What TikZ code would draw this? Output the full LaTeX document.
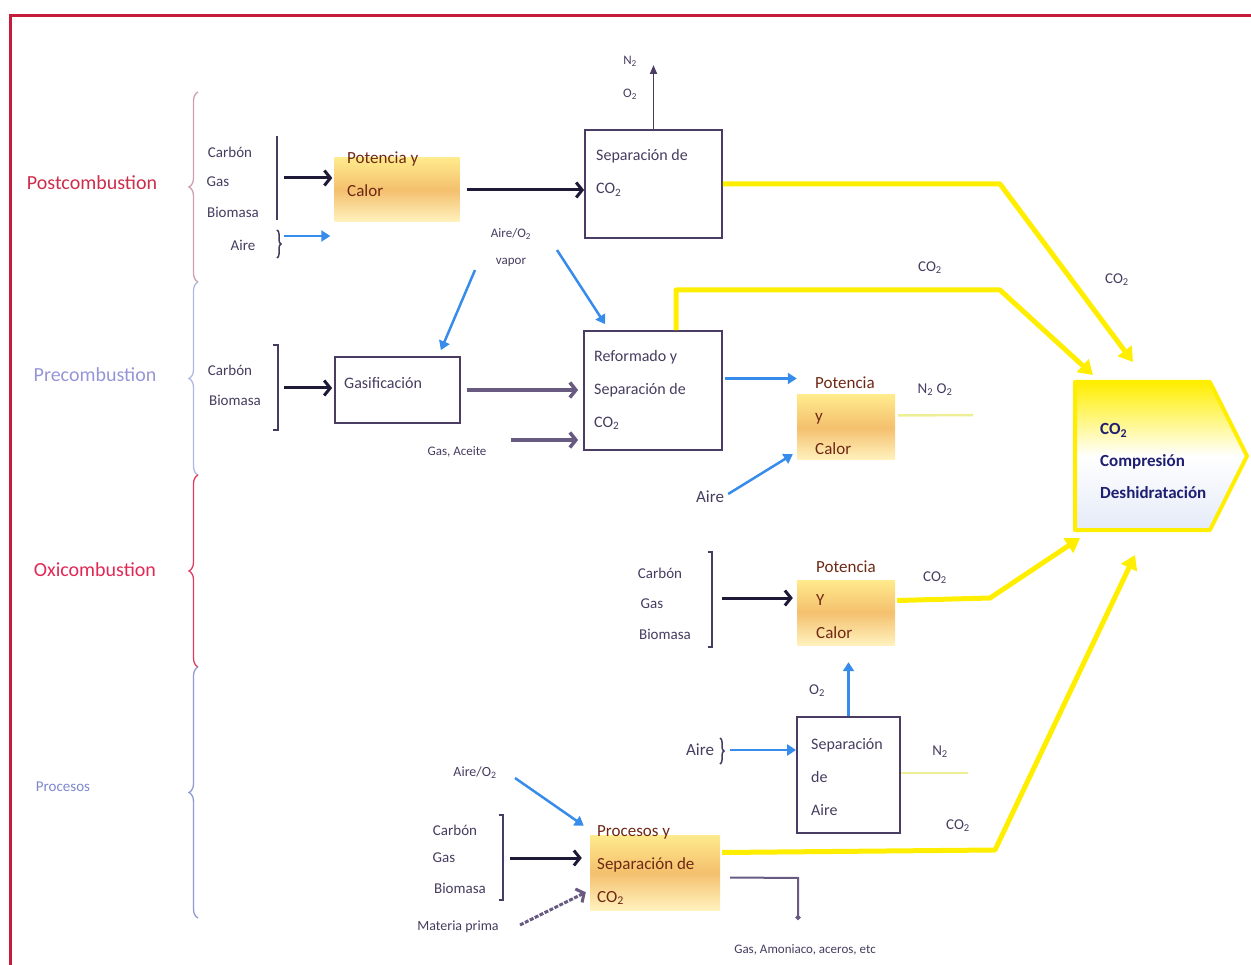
\documentclass[tikz,border=0pt]{standalone}
\usepackage{fontspec}
\setmainfont{Carlito}
\usetikzlibrary{positioning, calc, arrows.meta, decorations.pathreplacing}

\definecolor{marcoRojo}{RGB}{196,28,58}
\definecolor{postRojo}{RGB}{205,45,75}
\definecolor{preLila}{RGB}{150,150,215}
\definecolor{oxiRojo}{RGB}{225,40,85}
\definecolor{procAzul}{RGB}{125,135,205}
\definecolor{llavePost}{RGB}{205,160,175}
\definecolor{llavePre}{RGB}{175,185,225}
\definecolor{llaveOxi}{RGB}{225,60,95}
\definecolor{llaveProc}{RGB}{145,155,210}
\definecolor{txtGris}{RGB}{70,60,95}
\definecolor{bordeCaja}{RGB}{75,60,100}
\definecolor{flechaNegra}{RGB}{30,25,55}
\definecolor{flechaGris}{RGB}{105,90,130}
\definecolor{flechaAzul}{RGB}{55,140,235}
\definecolor{amarilloCO}{RGB}{255,238,0}
\definecolor{amarilloPalido}{RGB}{238,238,150}
\definecolor{azulPalido}{RGB}{228,234,248}
\definecolor{hotTop}{RGB}{255,234,140}
\definecolor{hotMid}{RGB}{244,192,110}
\definecolor{hotBot}{RGB}{255,242,190}
\definecolor{txtMarron}{RGB}{110,40,20}
\definecolor{txtAzul}{RGB}{30,30,115}

\newcommand{\coDos}{CO\textsubscript{2}}

\begin{document}
\begin{tikzpicture}[
    x=1pt, y=-1pt,
    cat_lbl/.style={font=\fontsize{20}{24}\selectfont, inner sep=0pt},
    in_lbl/.style={text=txtGris, font=\fontsize{15}{18}\selectfont, inner sep=1pt},
    gas_lbl/.style={text=txtGris, font=\fontsize{13}{16}\selectfont, inner sep=1pt},
    proc_box/.style={draw=bordeCaja, line width=1.8pt, inner sep=0pt},
    hot_box/.style={inner sep=0pt, top color=hotTop, bottom color=hotBot, middle color=hotMid},
    box_txt/.style={anchor=west, align=left, text=txtGris, font=\fontsize{16}{33}\selectfont, inner sep=0pt},
    hot_txt/.style={anchor=west, align=left, text=txtMarron, font=\fontsize{17}{33}\selectfont, inner sep=0pt},
    llave/.style={decorate, decoration={brace, amplitude=9pt}, line width=1.3pt},
    barra/.style={line width=1.5pt, draw=txtGris},
    negra/.style={-{Straight Barb[length=6pt, width=15pt]}, line width=3pt, flechaNegra},
    gris/.style={-{Straight Barb[length=6pt, width=15pt]}, line width=3.5pt, flechaGris},
    azul/.style={-{Triangle[length=9pt, width=11pt]}, line width=2.5pt, flechaAzul},
    co2_line/.style={-{Triangle[length=14pt, width=17pt]}, line width=5pt, amarilloCO, line join=round},
    salida/.style={line width=2.5pt, amarilloPalido}
]
    \useasboundingbox (0,0) rectangle (1251,965);

    % ======================================================================
    % MARCO Y CATEGORIAS
    % ======================================================================
    \draw[marcoRojo, line width=3pt] (10,970) -- (10,16) -- (1256,16);

    \node[cat_lbl, text=postRojo] (post) at (92,183) {Postcombustion};
    \node[cat_lbl, text=preLila] (pre) at (95,375) {Precombustion};
    \node[cat_lbl, text=oxiRojo] (oxi) at (95,570) {Oxicombustion};
    \node[cat_lbl, text=procAzul, font=\fontsize{15}{18}\selectfont] (proc) at (63,787) {Procesos};

    % Llaves
    \draw[llave, llavePost] (198,282) -- (198,92);
    \draw[llave, llavePre] (198,475) -- (198,282);
    \draw[llave, llaveOxi] (198,667) -- (198,475);
    \draw[llave, llaveProc] (198,918) -- (198,667);

    % ======================================================================
    % POSTCOMBUSTION
    % ======================================================================
    \node[in_lbl] (p_carbon) at (230,152) {Carbón};
    \node[in_lbl] (p_gas) at (218,182) {Gas};
    \node[in_lbl] (p_bio) at (233,212) {Biomasa};
    \node[in_lbl] (p_aire) at (243,245) {Aire};
    \draw[barra] (277,136) -- (277,220);
    \draw[barra, decorate, decoration={brace, amplitude=4pt}] (277,230) -- (277,258);

    \node[hot_box, minimum width=125, minimum height=64] (pot1) at (397,190) {};
    \node[hot_txt] (pot1_txt) at (347,174) {Potencia y\\Calor};

    \node[proc_box, minimum width=137, minimum height=108] (sep1) at (653.5,184) {};
    \node[box_txt] (sep1_txt) at (596,173) {Separación de\\\coDos};

    \coordinate (p_in) at (284,178);
    \coordinate (p_aire_in) at (284,236);
    \coordinate (n_out) at (653.5,65);
    \draw[negra] (p_in) -- ([xshift=-2pt]p_in -| pot1.west);
    \draw[azul] (p_aire_in) -- ([xshift=-4pt]p_aire_in -| pot1.west);
    \draw[negra] ([xshift=7pt]pot1.east) -- (pot1.east -| sep1.west);
    \draw[-{Triangle[length=9pt, width=7pt]}, line width=1.8pt, bordeCaja] (sep1.north) -- (n_out);
    \node[gas_lbl, align=center, font=\fontsize{13}{33}\selectfont] (n_lbl) at (630,78) {N\textsubscript{2}\\O\textsubscript{2}};

    % ======================================================================
    % PRECOMBUSTION
    % ======================================================================
    \node[in_lbl] (r_carbon) at (230,370) {Carbón};
    \node[in_lbl] (r_bio) at (235,400) {Biomasa};
    \draw[barra] (273,345) -- (278,345) -- (278,430) -- (273,430);

    \node[proc_box, minimum width=125, minimum height=66] (gas) at (397.5,390) {};
    \node[box_txt] (gas_txt) at (344,383) {Gasificación};

    \node[proc_box, minimum width=138, minimum height=119] (ref) at (653,390.5) {};
    \node[box_txt] (ref_txt) at (594,390) {Reformado y\\Separación de\\\coDos};

    \node[gas_lbl, align=center, font=\fontsize{13}{27}\selectfont] (vapor) at (511,248) {Aire/O\textsubscript{2}\\vapor};
    \node[gas_lbl] (gas_ac) at (457,452) {Gas, Aceite};

    \coordinate (r_in) at (284,388);
    \coordinate (ga_in) at (511,440);
    \coordinate (v_a) at (475,270);
    \coordinate (v_b) at (557,250);
    \draw[negra] (r_in) -- ([xshift=-2pt]r_in -| gas.west);
    \draw[gris] ([xshift=6pt]gas.east) -- ([xshift=-5pt]gas.east -| ref.west);
    \draw[gris] (ga_in) -- ([xshift=-5pt]ga_in -| ref.west);
    \draw[azul] (v_a) -- ($(gas.north east)+(-20,-6)$);
    \draw[azul] (v_b) -- ($(ref.north west)+(22,-6)$);

    \node[hot_box, minimum width=98, minimum height=65] (pot2) at (846,427.5) {};
    \node[hot_txt] (pot2_txt) at (815,416) {Potencia\\y\\Calor};
    \node[in_lbl, font=\fontsize{17}{20}\selectfont] (aire2) at (710,497) {Aire};

    \coordinate (r_out) at ($(ref.east)+(2,-12)$);
    \coordinate (n2o2_end) at (973,415);
    \draw[azul] (r_out) -- (r_out -| pot2.west);
    \draw[azul] ($(aire2.east)+(3,-3)$) -- ($(pot2.south west)+(-4,-6)$);
    \draw[salida] ($(pot2.east)+(3,-12)$) -- (n2o2_end);
    \node[gas_lbl, font=\fontsize{15}{18}\selectfont] (n2o2) at (935,390) {N\textsubscript{2} O\textsubscript{2}};

    % ======================================================================
    % OXICOMBUSTION
    % ======================================================================
    \node[in_lbl] (o_carbon) at (660,573) {Carbón};
    \node[in_lbl] (o_gas) at (652,604) {Gas};
    \node[in_lbl] (o_bio) at (665,634) {Biomasa};
    \draw[barra] (708,552) -- (712,552) -- (712,647) -- (708,647);

    \node[hot_box, minimum width=98, minimum height=65] (pot3) at (846,612.5) {};
    \node[hot_txt] (pot3_txt) at (816,600) {Potencia\\Y\\Calor};

    \node[proc_box, minimum width=103, minimum height=116] (sepa) at (848.5,775) {};
    \node[box_txt] (sepa_txt) at (811,777) {Separación\\de\\Aire};
    \node[in_lbl, font=\fontsize{17}{20}\selectfont] (aire3) at (700,750) {Aire};
    \draw[barra, decorate, decoration={brace, amplitude=4pt}] (720,738) -- (720,764);

    \coordinate (o_in) at (722,598);
    \coordinate (a3_in) at (730,750);
    \coordinate (n2_end) at (968,773);
    \draw[negra] (o_in) -- ([xshift=-4pt]o_in -| pot3.west);
    \draw[azul] (sepa.north) -- ($(sepa.north |- pot3.south)+(0,17)$);
    \draw[azul] (a3_in) -- (a3_in -| sepa.west);
    \draw[salida] ($(sepa.east)+(0,-2)$) -- (n2_end);
    \node[gas_lbl, font=\fontsize{15}{18}\selectfont] (o2_lbl) at (817,691) {O\textsubscript{2}};
    \node[gas_lbl, font=\fontsize{15}{18}\selectfont] (n2_lbl) at (940,752) {N\textsubscript{2}};

    % ======================================================================
    % PROCESOS
    % ======================================================================
    \node[gas_lbl, font=\fontsize{14}{16}\selectfont] (pr_aire) at (475,773) {Aire/O\textsubscript{2}};
    \node[in_lbl] (pr_carbon) at (455,830) {Carbón};
    \node[in_lbl] (pr_gas) at (444,858) {Gas};
    \node[in_lbl] (pr_bio) at (460,888) {Biomasa};
    \node[gas_lbl, font=\fontsize{14}{16}\selectfont] (materia) at (458,927) {Materia prima};
    \draw[barra] (499,815) -- (503,815) -- (503,900) -- (499,900);

    \node[hot_box, minimum width=130, minimum height=75] (prc) at (655,872.5) {};
    \node[hot_txt] (prc_txt) at (597,865) {Procesos y\\Separación de\\\coDos};

    \coordinate (pr_in) at (510,858);
    \coordinate (pr_a) at (515,778);
    \coordinate (mp_in) at (520,925);
    \coordinate (sub_k) at (798,878);
    \coordinate (sub_end) at (798,920);
    \draw[negra] (pr_in) -- ([xshift=-8pt]pr_in -| prc.west);
    \draw[azul] (pr_a) -- ($(prc.north west)+(-6,-9)$);
    \draw[gris, line width=3pt, dash pattern=on 4pt off 1.5pt] (mp_in) -- ($(prc.south west)+(-4,-18)$);
    \draw[-{Circle[length=5pt]}, line width=2pt, flechaGris] ($(prc.east)+(10,5)$) -- (sub_k) -- (sub_end);
    \node[gas_lbl] (subprod) at (805,950) {Gas, Amoniaco, aceros, etc};

    % ======================================================================
    % COMPRESION DE CO2
    % ======================================================================
    \coordinate (k1) at (1000,184);
    \coordinate (k2) at (1000,290);
    \coordinate (k3) at (990,598);
    \coordinate (k4) at (995,850);
    \coordinate (c1_end) at (1133,362);
    \coordinate (c2_end) at (1093,375);
    \coordinate (c3_end) at (1080,538);
    \coordinate (c4_end) at (1135,555);

    \draw[co2_line] (sep1.east) -- (k1) -- (c1_end);
    \draw[co2_line] ($(ref.north)+(23,0)$) |- (k2) -- (c2_end);
    \draw[co2_line] ($(pot3.east)+(2,-12)$) -- (k3) -- (c3_end);
    \draw[co2_line] ($(prc.east)+(2,-20)$) -- (k4) -- (c4_end);

    \node[gas_lbl, font=\fontsize{15}{18}\selectfont] (co2_a) at (1117,280) {\coDos};
    \node[gas_lbl, font=\fontsize{15}{18}\selectfont] (co2_b) at (930,268) {\coDos};
    \node[gas_lbl, font=\fontsize{15}{18}\selectfont] (co2_c) at (935,578) {\coDos};
    \node[gas_lbl, font=\fontsize{15}{18}\selectfont] (co2_d) at (958,826) {\coDos};

    % Pentagono
    \shade[top color=amarilloCO, bottom color=azulPalido, middle color=white]
        (1075,382) -- (1210,382) -- (1247,456) -- (1210,530) -- (1075,530) -- cycle;
    \draw[amarilloCO, line width=4pt, line join=round]
        (1075,382) -- (1210,382) -- (1247,456) -- (1210,530) -- (1075,530) -- cycle;
    \node[anchor=west, align=left, text=txtAzul, font=\bfseries\fontsize{17}{32}\selectfont, inner sep=0pt]
        (comp_txt) at (1100,461) {\coDos\\Compresión\\Deshidratación};

\end{tikzpicture}
\end{document}
